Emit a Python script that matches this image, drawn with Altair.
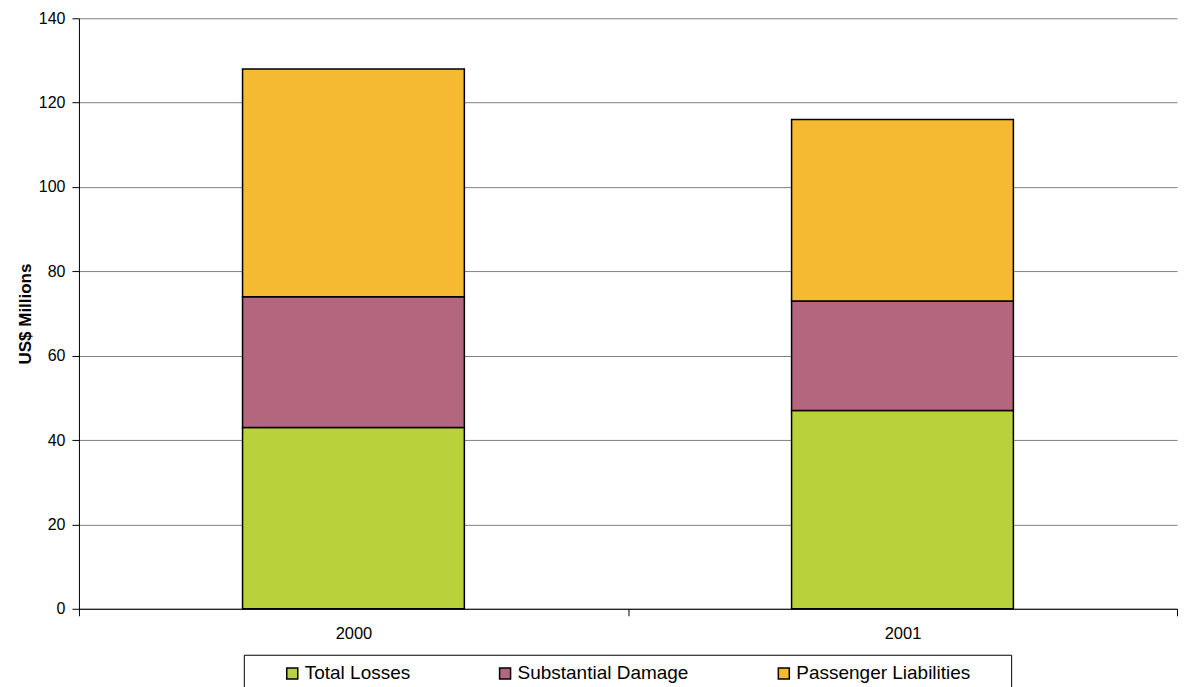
import altair as alt
import pandas as pd

years = ["2000", "2001"]
series = ["Total Losses", "Substantial Damage", "Passenger Liabilities"]
total_losses = [43, 47]
substantial_damage = [31, 26]
passenger_liabilities = [54, 43]
colors = ["#B9D13B", "#B5667F", "#F6B932"]
y_ticks = [0, 20, 40, 60, 80, 100, 120, 140]

rows = []
for i, y in enumerate(years):
    for k, (name, vals) in enumerate(zip(series, [total_losses, substantial_damage, passenger_liabilities])):
        rows.append({"year": y, "series": name, "value": vals[i], "idx": k})
df = pd.DataFrame(rows)

FONT = "Liberation Sans"
NB = "\u00a0"
TAIL = NB * 6 + "\u200b"
last = series[-1]

chart = alt.Chart(df).mark_bar(stroke="black", strokeWidth=1.5,
                               width=alt.RelativeBandSize(0.404)).encode(
    x=alt.X("year:N", sort=years, title=None,
            scale=alt.Scale(paddingInner=0, paddingOuter=0),
            axis=alt.Axis(labelAngle=0, tickBand="extent", tickSize=7, labelPadding=10,
                          labelFontSize=16.5, labelFont=FONT, labelColor="black",
                          domainColor="black", tickColor="black", grid=False)),
    y=alt.Y("value:Q", stack="zero", title="US$ Millions",
            scale=alt.Scale(domain=[0, 140], nice=False),
            axis=alt.Axis(values=y_ticks, tickSize=7, labelPadding=7,
                          labelFontSize=16, labelFont=FONT, labelColor="black",
                          titleFont=FONT, titleFontSize=17, titleFontWeight="bold",
                          titleColor="black", titlePadding=4,
                          domainColor="black", tickColor="black",
                          grid=True, gridColor="#808080", gridWidth=1)),
    color=alt.Color("series:N", sort=series,
                    scale=alt.Scale(domain=series, range=colors),
                    legend=alt.Legend(orient="none", legendX=165, legendY=637,
                                      direction="horizontal",
                                      title=NB, titleOrient="left", titlePadding=30,
                                      titleFontSize=19, titleFont=FONT, titleColor="white",
                                      symbolType="square", symbolSize=121,
                                      symbolStrokeColor="black", symbolStrokeWidth=1.5,
                                      symbolOpacity=1,
                                      labelFontSize=19, labelFont=FONT, labelColor="black",
                                      labelLimit=400,
                                      labelExpr=f"datum.label == '{last}' ? datum.label + '{TAIL}' : datum.label",
                                      labelOffset=3, columnPadding=85, padding=9,
                                      strokeColor="black", fillColor="white")),
    order=alt.Order("idx:Q", sort="ascending"),
).properties(
    width=1099, height=591,
    padding={"left": 8, "top": 2, "right": 0, "bottom": 0},
).configure_view(strokeWidth=0)

chart.save("out.html", embed_options={"renderer": "svg", "actions": False})
